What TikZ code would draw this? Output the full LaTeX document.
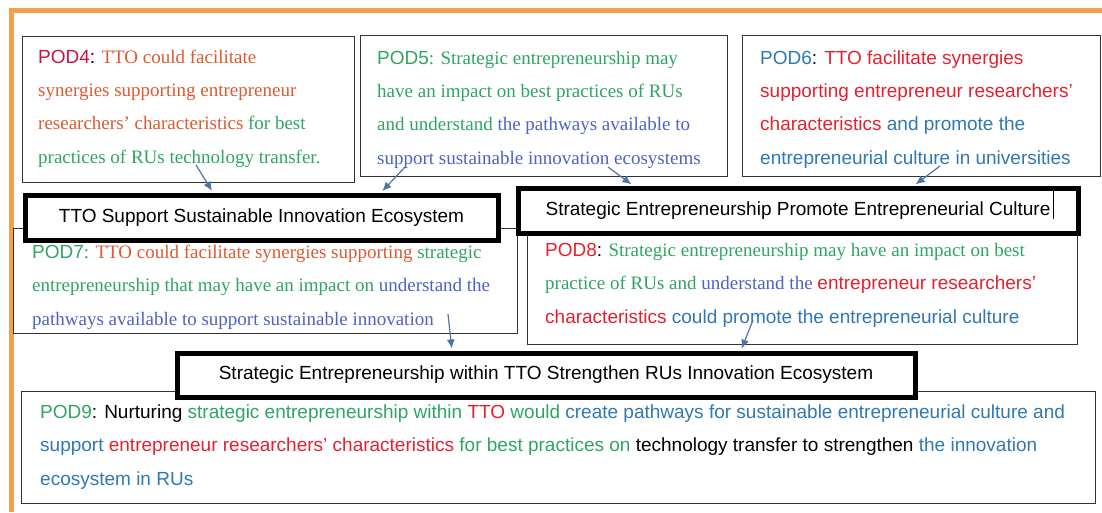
\documentclass[tikz,border=0pt]{standalone}
\usepackage{fontspec}
\setmainfont{Liberation Serif}
\setsansfont{Liberation Sans}
\usetikzlibrary{arrows.meta}

\definecolor{podred}{HTML}{C8143C}
\definecolor{podorange}{HTML}{DC5A30}
\definecolor{podgreen}{HTML}{2EA562}
\definecolor{podblue}{HTML}{4C62C8}
\definecolor{podsteel}{HTML}{2F78B4}
\definecolor{podbright}{HTML}{E5202E}
\definecolor{linkblue}{HTML}{4E74A6}
\definecolor{pageframe}{HTML}{F0A152}

\tikzset{
	podbox/.style={draw=black!80, line width=1.2pt, anchor=north west, inner sep=0pt},
	titlebox/.style={draw=black, line width=5pt, fill=white, inner sep=0pt, font=\sffamily\fontsize{19}{23}\selectfont},
	podtext/.style={anchor=base west, align=left, inner sep=0pt, font=\fontsize{19}{33.3}\selectfont},
	podsans/.style={podtext, font=\sffamily\fontsize{19}{33.3}\selectfont},
	link/.style={-{Latex[length=9pt,width=8pt]}, linkblue, line width=1.2pt, shorten >=2pt},
}

\begin{document}
\begin{tikzpicture}[x=1pt,y=-1pt]
	\useasboundingbox (0,0) rectangle (1102,512);
	\draw[pageframe, line width=5pt] (1102,10.5) -- (11.5,10.5) -- (11.5,512);

	% outer boxes
	\node[podbox, minimum width=332pt, minimum height=146pt] (pod4) at (22,36)  {};
	\node[podbox, minimum width=367pt, minimum height=141pt] (pod5) at (360,35) {};
	\node[podbox, minimum width=358pt, minimum height=141pt] (pod6) at (742,35) {};
	\node[podbox, minimum width=504pt, minimum height=105pt] (pod7) at (13,228) {};
	\node[podbox, minimum width=550pt, minimum height=112pt] (pod8) at (527,232) {};
	\node[podbox, minimum width=1074pt, minimum height=112pt] (pod9) at (21,391) {};

	% themes
	\node[titlebox, minimum width=473pt, minimum height=45pt] (t1) at (261.5,217.5) {TTO Support Sustainable Innovation Ecosystem};
	\node[titlebox, minimum width=560pt, minimum height=45pt] (t2) at (798,210.5)   {Strategic Entrepreneurship Promote Entrepreneurial Culture};
	\node[titlebox, minimum width=738pt, minimum height=44pt] (t3) at (546,375)     {Strategic Entrepreneurship within TTO Strengthen RUs Innovation Ecosystem};
	\draw[line width=0.8pt] (1053,191) -- (1053,219);

	% statements (placed by the baseline of their last line)
	\node[podtext] (txt4) at (38,163) {\textsf{\textcolor{podred}{POD4}:} \textcolor{podorange}{TTO could facilitate}\\
		\textcolor{podorange}{synergies supporting entrepreneur}\\
		\textcolor{podorange}{researchers’ characteristics} \textcolor{podgreen}{for best}\\
		\textcolor{podgreen}{practices of RUs technology transfer.}};
	\node[podtext] (txt5) at (377,164) {\textcolor{podgreen}{\textsf{POD5}: Strategic entrepreneurship may}\\
		\textcolor{podgreen}{have an impact on best practices of RUs}\\
		\textcolor{podgreen}{and understand} \textcolor{podblue}{the pathways available to}\\
		\textcolor{podblue}{support sustainable innovation ecosystems}};
	\node[podsans] (txt6) at (760,164) {\textcolor{podsteel}{POD6}: \textcolor{podbright}{TTO facilitate synergies}\\
		\textcolor{podbright}{supporting entrepreneur researchers’}\\
		\textcolor{podbright}{characteristics} \textcolor{podsteel}{and promote the}\\
		\textcolor{podsteel}{entrepreneurial culture in universities}};
	\node[podtext] (txt7) at (32,325) {\textcolor{podgreen}{\textsf{POD7}:} \textcolor{podorange}{TTO could facilitate synergies supporting} \textcolor{podgreen}{strategic}\\
		\textcolor{podgreen}{entrepreneurship that may have an impact on} \textcolor{podblue}{understand the}\\
		\textcolor{podblue}{pathways available to support sustainable innovation}};
	\node[podtext] (txt8) at (545,323) {\textsf{\textcolor{podbright}{POD8}:} \textcolor{podgreen}{Strategic entrepreneurship may have an impact on best}\\
		\textcolor{podgreen}{practice of RUs and} \textcolor{podblue}{understand the} \textsf{\textcolor{podbright}{entrepreneur researchers’}}\\
		\textsf{\textcolor{podbright}{characteristics} \textcolor{podsteel}{could promote the entrepreneurial culture}}};
	\node[podsans] (txt9) at (40,485) {\textcolor{podgreen}{POD9}: Nurturing \textcolor{podgreen}{strategic entrepreneurship within} \textcolor{podbright}{TTO} \textcolor{podgreen}{would} \textcolor{podsteel}{create pathways for sustainable entrepreneurial culture and}\\
		\textcolor{podsteel}{support} \textcolor{podbright}{entrepreneur researchers’ characteristics} \textcolor{podgreen}{for best practices on} technology transfer to strengthen \textcolor{podsteel}{the innovation}\\
		\textcolor{podsteel}{ecosystem in RUs}};

	% arrows
	\coordinate (s4)  at (196,165);
	\coordinate (s5a) at (405,167);
	\coordinate (s5b) at (608,167);
	\coordinate (s6)  at (940,166);
	\coordinate (s7)  at (448,314);
	\coordinate (s8)  at (753,320);

	\path[link] (s4)  edge ([xshift=-48.5pt]t1.north);
	\path[link] (s5a) edge ([xshift=119.5pt]t1.north);
	\path[link] (s5b) edge ([xshift=-165pt]t2.north);
	\path[link] (s6)  edge ([xshift=116pt]t2.north);
	\path[link] (s7)  edge ([xshift=-94pt]t3.north);
	\path[link] (s8)  edge ([xshift=195pt]t3.north);
\end{tikzpicture}
\end{document}
